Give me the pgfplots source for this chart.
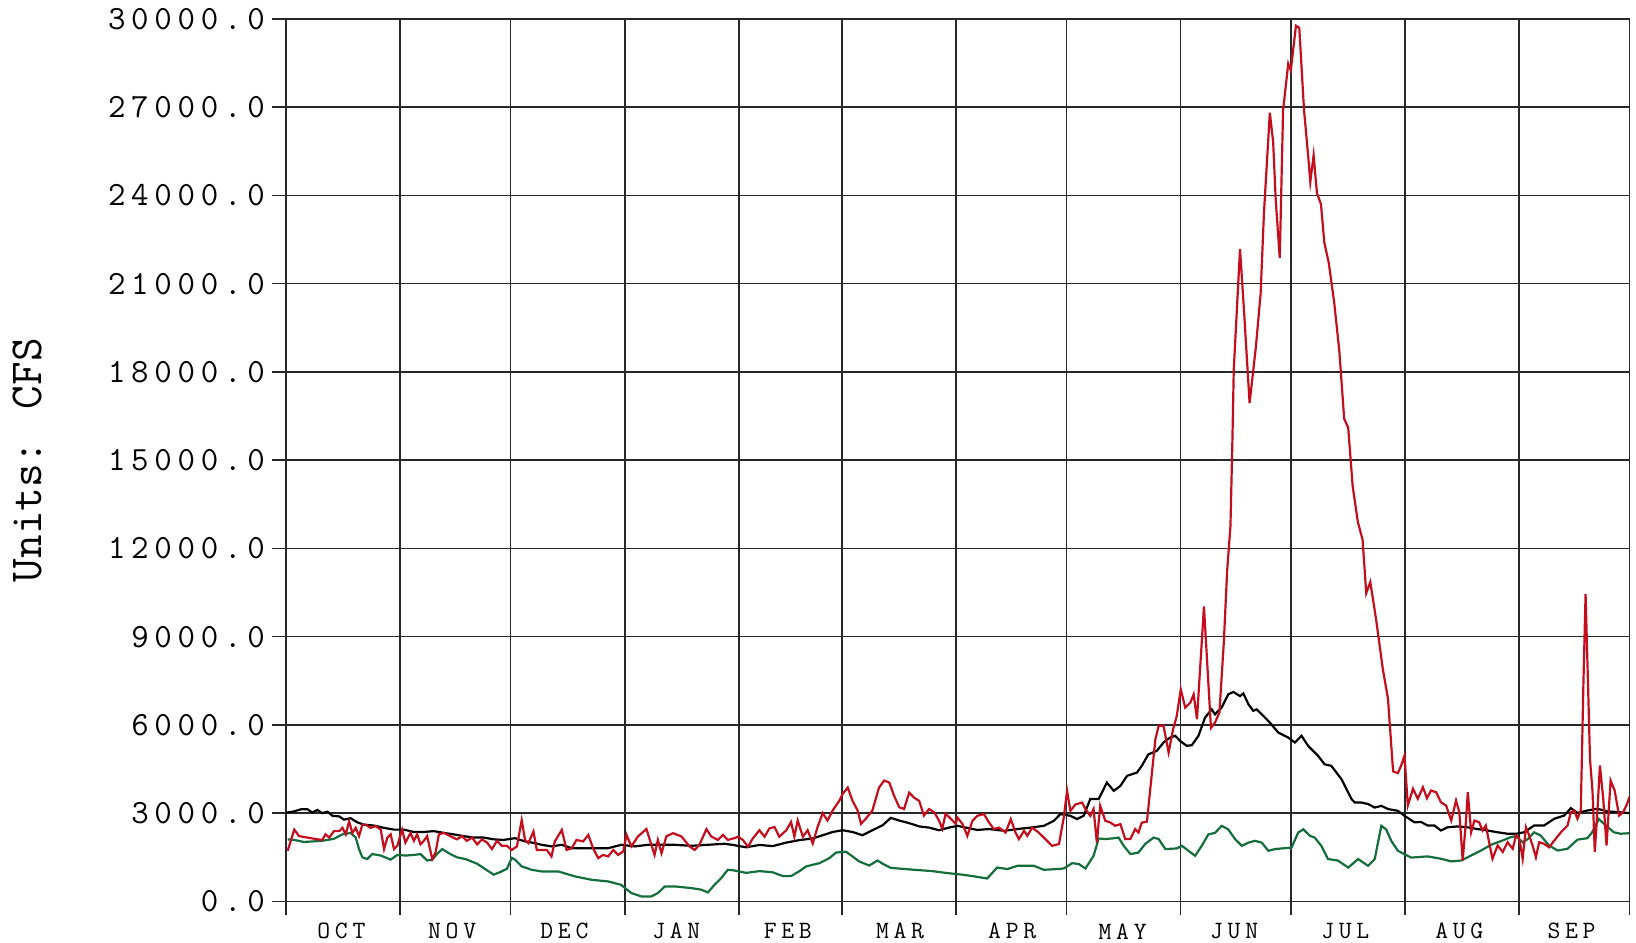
\documentclass[border=0pt]{standalone}
\usepackage{fontspec}
\usepackage{pgfplots}
\pgfplotsset{compat=1.18}
\newfontfamily\tickfont[LetterSpace=17]{Latin Modern Mono}
\newfontfamily\monthfont[LetterSpace=19]{Latin Modern Mono}
\newfontfamily\labfont{Latin Modern Mono}
\definecolor{flowred}{RGB}{196,14,30}
\definecolor{flowgreen}{RGB}{20,110,60}
\definecolor{gridc}{RGB}{40,40,40}
\begin{document}
\begin{tikzpicture}
\begin{axis}[
  scale only axis, width=673.5pt, height=442.5pt,
  xmin=0, xmax=365, ymin=0, ymax=30000,
  xtick={0,31,61,92,123,151,182,212,243,273,304,335,365},
  xticklabels={},
  ytick={0,3000,...,30000},
  xtick pos=bottom, ytick pos=left,
  tick align=outside, major tick length=7pt,
  grid=major, major grid style={draw=gridc, line width=0.8pt},
  axis line style={draw=gridc, line width=0.8pt},
  tick style={draw=gridc, line width=0.8pt},
  scaled y ticks=false,
  /pgf/number format/assume math mode=true,
  yticklabel style={font=\tickfont\fontsize{17}{17}\selectfont, inner sep=0pt, xshift=-3.5pt, /pgf/number format/.cd, fixed, fixed zerofill, precision=1, 1000 sep={}},
  extra x ticks={15,45.1,75.6,106,136.3,166.8,197.3,227.3,257.6,287.8,318.8,349.3},
  extra x tick labels={OCT,NOV,DEC,JAN,FEB,MAR,APR,MAY,JUN,JUL,AUG,SEP},
  extra x tick style={grid=none, major tick length=0pt, tick style={draw=none}, tick label style={font=\monthfont\fontsize{12.5}{12.5}\selectfont, anchor=center, inner sep=0pt, yshift=-15pt}},
  ylabel={Units: CFS},
  ylabel style={font=\labfont\fontsize{23}{23}\selectfont, at={(axis description cs:-0.1923,0.5)}, anchor=center},
]
\coordinate (SW) at (rel axis cs:0,0);
\coordinate (NE) at (rel axis cs:1,1);

% green series
\addplot[flowgreen, line width=1.1pt] coordinates {
(0.4,2110) (2.2,2090) (4.9,2020) (8.5,2050) (10.3,2070) (13,2130) (15.3,2280) (17.5,2330) (18.9,2170) (19.8,1780) (20.7,1500) (22,1440) (23.4,1610) (25.7,1560) (28.4,1420) (30.2,1580) (32.5,1560) (34.7,1580) (36.5,1610) (38.3,1390) (39.7,1420) (41,1610) (42.4,1780) (44.6,1610) (46.4,1500) (48.7,1440) (51.9,1280) (54.6,1055) (56.4,910) (58.2,1000) (60,1110) (61.3,1480) (62.2,1420) (64,1190) (66.7,1075) (69.4,1020) (73.9,1020) (78.5,850) (83,735) (87.5,680) (91,565) (93.8,283) (96.5,170) (99.2,170) (101,283) (102.9,510) (105.6,510) (110.1,453) (112.8,400) (114.6,305) (116.4,566) (118.2,790) (120,1075) (121.4,1060) (125,970) (128.6,1030) (132.2,990) (135,860) (137.2,860) (139.5,1030) (141.3,1190) (144.9,1300) (147.6,1470) (149.4,1660) (152.1,1690) (153.9,1530) (155.7,1360) (158.4,1220) (160.7,1390) (162.1,1280) (164.3,1140) (170.2,1080) (175.6,1030) (179.2,970) (183.7,910) (186,870) (190.5,780) (193.2,1150) (196,1100) (198.7,1210) (203.2,1210) (205.9,1075) (209.5,1100) (211.3,1120) (213.6,1300) (215.4,1270) (217.2,1120) (219.4,1550) (220.8,2140) (222.6,2120) (224.4,2140) (226.2,2170) (227.6,1890) (229.4,1610) (231.6,1660) (233.4,1950) (235.7,2170) (237.1,2120) (238.9,1780) (242,1800) (243.4,1890) (245.2,1720) (247,1550) (248.8,1890) (250.6,2280) (252.4,2330) (254.2,2570) (256,2450) (257.9,2110) (259.7,1890) (261.5,2000) (263.3,2060) (265.1,2000) (266.9,1720) (268.7,1780) (270.5,1800) (273.2,1830) (275,2340) (276.4,2450) (278.2,2230) (279.5,2170) (281.3,1890) (283.1,1440) (285.8,1390) (288.6,1150) (291.3,1440) (294,1210) (295.8,1440) (297.6,2570) (298.9,2450) (300.3,2060) (302.1,1720) (305.7,1490) (310.2,1530) (313.8,1450) (316.6,1360) (319.3,1390) (322,1560) (324.7,1730) (327.4,1925) (330.1,2050) (332.8,2185) (334.2,2220) (336,2010) (337.4,2120) (339.1,2350) (340.9,2240) (343.2,1900) (345.5,1730) (348.2,1790) (350.9,2100) (353.6,2150) (354.9,2350) (356.7,2800) (358.6,2580) (360.8,2350) (362.6,2300) (365,2320)
};

% black series
\addplot[black, line width=1.1pt] coordinates {
(0,3020) (1.8,3050) (4,3130) (5.8,3130) (7.1,3020) (8.5,3110) (9.8,3000) (11.2,3050) (12.6,2910) (14.4,2890) (15.7,2780) (17.5,2830) (19.3,2690) (21.1,2610) (23.8,2580) (26.6,2500) (29.3,2440) (32,2440) (34.7,2360) (37.4,2360) (40.1,2390) (42.8,2330) (45.5,2280) (48.2,2220) (50.9,2170) (53.7,2170) (56.4,2110) (59.1,2090) (62.2,2150) (64.9,2040) (67.6,1980) (69.4,1925) (72.1,1870) (74.9,1925) (77.6,1810) (81.2,1810) (84.8,1810) (87.5,1810) (91.1,1925) (94.7,1870) (98.3,1925) (102,1925) (105.6,1925) (110.1,1890) (114.6,1925) (119.1,1960) (121.4,1920) (125,1840) (128.6,1920) (132.2,1880) (135.9,2000) (139.5,2085) (143.1,2140) (145.8,2250) (148.5,2360) (151.2,2420) (153.9,2360) (156.6,2250) (159.3,2420) (162.1,2590) (164.3,2840) (166.6,2750) (169.3,2660) (172,2550) (174.7,2510) (177.4,2420) (180.1,2510) (182.4,2570) (187.8,2430) (191,2460) (195.1,2400) (198.7,2460) (202.3,2510) (205.9,2570) (208.6,2740) (210.4,2970) (213.1,2910) (214.9,2800) (216.7,2910) (218.5,3480) (220.8,3480) (223,4040) (224.9,3760) (226.7,3930) (228.5,4270) (231.2,4380) (232.5,4610) (234.3,5000) (236.6,5120) (238.4,5400) (240.2,5570) (241.6,5630) (242.9,5460) (244.7,5290) (246.1,5310) (247.9,5630) (249.7,6250) (251.5,6530) (252.4,6360) (254.2,6590) (256,7040) (257.4,7120) (259.2,6980) (260.1,7070) (261.5,6700) (262.8,6480) (263.7,6530) (265.1,6360) (267.3,6080) (269.6,5740) (272.3,5570) (274.1,5400) (275.9,5630) (277.7,5290) (280.4,4950) (282.2,4660) (284,4610) (286.8,4150) (289.5,3480) (290.4,3360) (292.2,3360) (294,3310) (295.8,3190) (297.6,3250) (299.4,3140) (302.1,3080) (303.9,2910) (306.6,2690) (308.4,2700) (310.2,2580) (312,2580) (313.8,2410) (315.6,2520) (318.3,2550) (321,2520) (323.7,2460) (326.5,2410) (329.2,2350) (331.9,2300) (334.2,2300) (336.4,2350) (339.1,2580) (341.8,2580) (344.6,2810) (347.3,2920) (349.1,3170) (350.9,3010) (353.6,3090) (356.3,3150) (359,3060) (361.7,3040) (365,3000)
};

% red series
\addplot[flowred, line width=1.1pt] coordinates {
(0.4,1720) (2.2,2440) (3.5,2220) (5.8,2170) (8.5,2110) (9.8,2090) (10.7,2280) (11.7,2170) (13,2390) (14.4,2390) (15.3,2500) (16.2,2280) (17.1,2720) (18,2330) (18.9,2500) (19.8,2220) (20.7,2610) (21.6,2610) (22.9,2500) (24.3,2560) (25.7,2440) (26.6,1780) (27.5,2170) (28.4,2280) (29.3,1780) (30.2,1890) (31.5,2440) (32.4,2000) (33.8,2330) (34.7,2060) (35.6,2280) (36.5,1940) (37.4,2060) (38.3,2220) (39.7,1440) (40.6,1670) (41.5,2280) (42.8,2330) (44.6,2220) (46.4,2110) (47.8,2220) (49.1,2060) (50.5,2170) (51.9,1940) (53.2,2110) (54.6,2000) (55.9,1780) (57.3,2060) (58.6,1890) (60,1890) (61.3,1750) (62.7,1870) (64,2770) (64.9,2090) (65.8,1980) (67.2,2380) (68.1,1750) (69.4,1750) (70.8,1750) (72.1,1530) (73,2040) (74.9,2430) (76.2,1750) (77.6,1810) (78.9,2090) (80.7,2040) (82.1,2260) (83.4,1810) (84.8,1470) (86.1,1580) (87.5,1530) (88.9,1750) (90.2,1580) (91.6,1700) (92.5,2260) (93.8,1870) (95.6,2210) (97.9,2460) (100.1,1580) (101,2090) (102,1640) (103.3,2210) (105.1,2320) (107.4,2210) (109.6,1870) (111,1750) (112.3,1925) (114.2,2460) (115.5,2210) (117.3,2090) (118.7,2260) (120,2090) (121.8,2150)
(122.8,2200) (124.1,2090) (125.5,1860) (126.8,2140) (128.6,2420) (130,2200) (131.3,2480) (132.7,2530) (134,2200) (135.9,2420) (137.2,2700) (138.1,2200) (139,2750) (140.4,2200) (141.7,2420) (143.1,1970) (144.4,2530) (145.8,3000) (147.1,2750) (148.5,3090) (150.3,3420) (151.2,3650) (152.6,3870) (153.9,3420) (155.3,3090) (156.2,2640) (157.5,2810) (159.3,3090) (161.1,3870) (162.5,4110) (163.9,4040) (165.2,3590) (166.6,3200) (167.9,3140) (169.3,3700) (170.6,3530) (172,3420) (173.3,2920) (174.7,3140) (176.1,3030) (177.4,2750) (178.3,2470) (179.2,2980) (180.6,2810) (181.9,2640)
(182.4,2850) (183.8,2630) (185.1,2230) (186.5,2740) (187.8,2910) (189.6,2970) (191,2680) (192.3,2460) (193.7,2510) (195.5,2340) (196.9,2800) (198.2,2340) (199.1,2120) (200.5,2400) (201.4,2230) (202.7,2510) (204.5,2340) (206.3,2120) (208.1,1890) (210,1950) (211.3,2850) (212.2,3760) (213.1,3080) (214.5,3300) (216.3,3360) (217.2,3140) (218.5,2910) (219.4,3140) (220.3,2000) (221.2,3250) (222.6,2740) (224,2680) (225.3,2570) (226.7,2630) (228,2120) (229.4,2120) (230.7,2460) (231.6,2340) (232.5,2680) (233.9,2710) (234.8,3810) (236.2,5510) (237.1,5970) (238.4,5970) (239.8,5060) (241,5850) (242,6300) (243.1,7210) (244.3,6590) (245.7,6760) (246.6,7040) (247.5,6190) (249.4,10025) (251.3,5900) (252.4,6080) (253.6,6420) (254.8,8810) (255.7,11240) (256.6,12760) (257.1,15500) (257.5,18080) (259.2,22180) (260.3,20050) (261.8,16940) (263.5,18840) (264.8,20660) (265.7,23400) (267.3,26810) (268.2,25820) (268.9,23850) (270,21870) (270.9,26890) (272.3,28480) (273,28250) (274.4,29770) (275.3,29700) (276.6,26890) (277.7,25370) (278.3,24460) (279.2,25370) (280.1,24080) (281.2,23700) (282.1,22400) (283.3,21720) (284.8,20350) (286.2,18690) (287.5,16410) (288.6,16100) (289.8,14130) (291.2,12910) (292.5,12300) (293.5,10480) (294.6,10860) (296.2,9570) (298,7900) (299.4,6900) (300.8,4420) (302.1,4360) (303,4620) (303.9,4960) (304.8,3260) (306.2,3830) (307.5,3490) (308.9,3880) (310,3510) (311.1,3770) (312.5,3710) (313.8,3370) (315.2,3260) (316.6,2750) (317.9,3430) (318.8,3030) (319.7,1390) (320.5,2570) (321.1,3710) (322,2350) (322.9,2750) (324.2,2690) (325.1,2410) (326,2580) (326.9,2010) (327.8,1450) (329.2,1900) (330.6,1680) (331.9,2010) (333.3,1790) (334.2,2240) (335.1,2130) (336,1450) (336.9,2520) (337.8,2240) (338.7,1900) (339.6,1500) (340.5,2010) (341.8,1960) (343.2,1840) (344.6,2070) (346.4,2350) (348.2,2580) (349.1,3030) (350,3090) (350.9,2810) (351.8,3090) (352.5,7340) (353.1,10450) (353.8,7220) (354.3,4850) (355,3710) (355.6,1680) (356.3,3030) (357,4620) (357.9,3490) (358.8,1900) (359.9,4110) (361,3770) (362.2,2920) (363.3,3030) (364.4,3320) (365,3550)
};
\end{axis}
\path ([xshift=-143.5pt,yshift=-20.5pt]SW) rectangle ([xshift=1pt,yshift=9.5pt]NE);
\end{tikzpicture}
\end{document}
